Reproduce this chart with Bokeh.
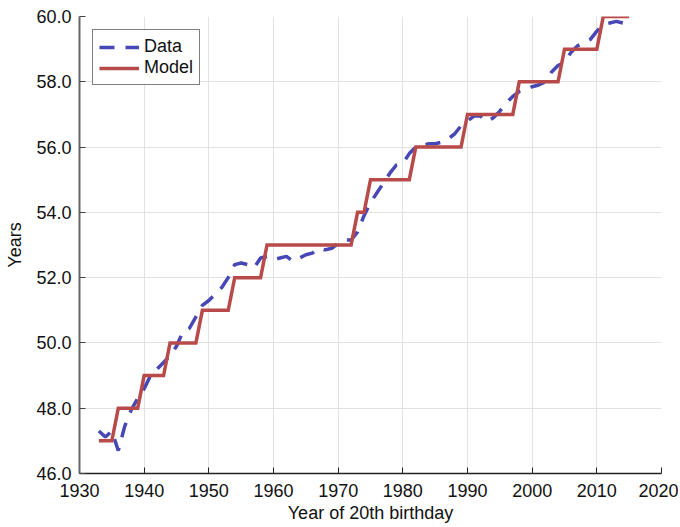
from bokeh.plotting import figure
from bokeh.models import Range1d, FixedTicker, NumeralTickFormatter, Legend, LegendItem
from bokeh.embed import file_html
from bokeh.resources import INLINE

years = list(range(1933, 2016))

data_years = [
    47.3, 47.12, 47.3, 46.7, 47.45, 47.95, 48.3, 48.6, 49.0, 49.2,
    49.4, 49.6, 49.9, 50.35, 50.45, 50.8, 51.15, 51.3, 51.5, 51.7,
    52.0, 52.4, 52.45, 52.4, 52.3, 52.6, 52.65, 52.55, 52.6, 52.65,
    52.5, 52.6, 52.7, 52.75, 52.9, 52.85, 52.9, 53.05, 53.15, 53.15,
    53.4, 53.9, 54.3, 54.6, 54.9, 55.2, 55.45, 55.5, 55.8, 56.0,
    56.05, 56.1, 56.1, 56.15, 56.25, 56.4, 56.65, 56.8, 56.95, 56.95,
    56.78, 56.9, 57.1, 57.35, 57.55, 57.7, 57.75, 57.85, 57.9, 58.0,
    58.3, 58.5, 58.6, 58.9, 59.1, 59.2, 59.3, 59.55, 59.75, 59.8,
    59.85, 59.8, 59.75,
]

model_years = [
    47, 47, 47,
    48, 48, 48, 48,
    49, 49, 49, 49,
    50, 50, 50, 50, 50,
    51, 51, 51, 51, 51,
    52, 52, 52, 52, 52,
    53, 53, 53, 53, 53, 53, 53, 53, 53, 53, 53, 53, 53, 53,
    54, 54,
    55, 55, 55, 55, 55, 55, 55,
    56, 56, 56, 56, 56, 56, 56, 56,
    57, 57, 57, 57, 57, 57, 57, 57,
    58, 58, 58, 58, 58, 58, 58,
    59, 59, 59, 59, 59, 59,
    60, 60, 60, 60, 60,
]

x_ticks = [1930, 1940, 1950, 1960, 1970, 1980, 1990, 2000, 2010, 2020]
y_ticks = [46, 48, 50, 52, 54, 56, 58, 60]

FONT = "Liberation Sans"
FS = "18px"

p = figure(width=678, height=527, output_backend="svg", toolbar_location=None,
           x_range=Range1d(1930, 2020), y_range=Range1d(46, 60),
           min_border_left=79, min_border_right=17, min_border_top=16, min_border_bottom=54)
p.outline_line_color = None
p.background_fill_color = "white"

blue = "#4747b5"
red = "#b84a4a"

r_data = p.line(years, data_years, line_color=blue, line_width=3.5, line_dash="15 11")
r_model = p.line(years, model_years, line_color=red, line_width=3.5, line_join="miter")

for ax in (p.xaxis[0], p.yaxis[0]):
    ax.major_tick_in = 6
    ax.major_tick_out = 0
    ax.minor_tick_line_color = None
    ax.major_label_text_font = FONT
    ax.major_label_text_font_size = FS
    ax.major_label_text_color = "#111111"
    ax.axis_label_text_font = FONT
    ax.axis_label_text_font_size = FS
    ax.axis_label_text_font_style = "normal"
    ax.axis_label_text_color = "#111111"

p.xaxis.ticker = FixedTicker(ticks=x_ticks)
p.yaxis.ticker = FixedTicker(ticks=y_ticks)
p.yaxis.formatter = NumeralTickFormatter(format="0.0")
p.xaxis.axis_label = "Year of 20th birthday"
p.yaxis.axis_label = "Years"
p.xaxis.major_label_standoff = 10
p.yaxis.major_label_standoff = 8
p.xaxis.axis_label_standoff = 3
p.yaxis.axis_label_standoff = 8
p.xaxis.axis_line_color = "#222222"
p.xaxis.axis_line_width = 1.5
p.xaxis.major_tick_line_color = "#222222"
p.yaxis.axis_line_color = "#666666"
p.yaxis.axis_line_width = 2
p.yaxis.major_tick_line_color = "#444444"

p.xgrid.grid_line_color = "#e2e2e2"
p.ygrid.grid_line_color = "#e2e2e2"
p.xgrid.ticker = FixedTicker(ticks=x_ticks)
p.ygrid.ticker = FixedTicker(ticks=y_ticks)

legend = Legend(items=[LegendItem(label="Data", renderers=[r_data]),
                       LegendItem(label="Model", renderers=[r_model])],
                location="top_left")
legend.margin = 13
legend.padding = 6
legend.spacing = 0
legend.label_height = 20
legend.glyph_height = 20
legend.glyph_width = 40
legend.label_standoff = 5
legend.label_text_font = FONT
legend.label_text_font_size = FS
legend.label_text_color = "#111111"
legend.border_line_color = "black"
legend.border_line_width = 1
legend.background_fill_alpha = 1.0
p.add_layout(legend)

open("out.html", "w").write(file_html(p, INLINE))
